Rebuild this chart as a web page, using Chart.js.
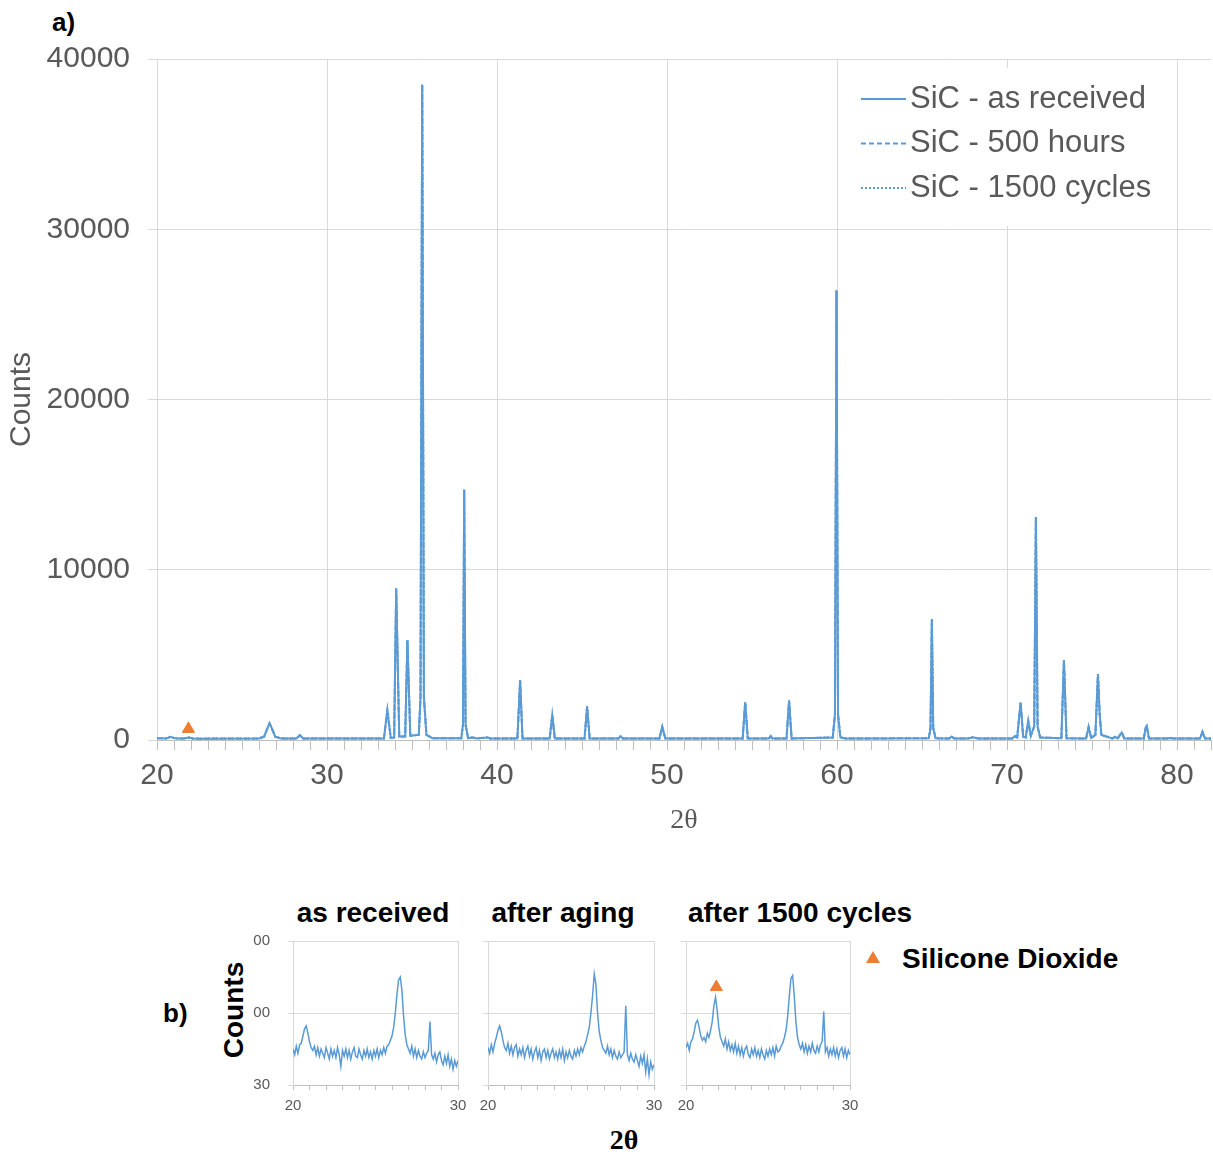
<!DOCTYPE html>
<html>
<head>
<meta charset="utf-8">
<script src="https://cdn.jsdelivr.net/npm/chart.js@4.4.0/dist/chart.umd.min.js"></script>
<style>
body { margin: 0; background: #fff; width: 1213px; height: 1156px; position: relative; overflow: hidden; font-family: 'Liberation Sans', Arial, sans-serif; }
canvas { position: absolute; }
.lbl { position: absolute; font-weight: bold; color: #000; white-space: nowrap; }
.ctr { transform: translateX(-50%); }
</style>
</head>
<body>
<div class="lbl" style="left:52px;top:7px;font-size:26px;line-height:30px">a)</div>
<canvas id="mainChart" width="1213" height="850" style="left:0;top:0"></canvas>

<div class="lbl ctr" style="left:373px;top:897px;font-size:28px;line-height:32px">as received</div>
<div class="lbl ctr" style="left:563px;top:897px;font-size:28px;line-height:32px">after aging</div>
<div class="lbl ctr" style="left:800px;top:897px;font-size:28px;line-height:32px">after 1500 cycles</div>
<div style="position:absolute;left:866px;top:951px;width:0;height:0;border-left:7px solid transparent;border-right:7px solid transparent;border-bottom:12px solid #ED7D31"></div>
<div class="lbl" style="left:902px;top:943px;font-size:28px;line-height:32px">Silicone Dioxide</div>
<div class="lbl" style="left:163px;top:998px;font-size:26px;line-height:30px">b)</div>
<div class="lbl" style="left:234px;top:1010px;font-size:28px;line-height:32px;transform:translate(-50%,-50%) rotate(-90deg)">Counts</div>
<div class="lbl ctr" style="left:624px;top:1124px;font-size:28px;line-height:32px;font-family:'Liberation Serif',serif">2θ</div>

<canvas id="small1" width="225" height="190" style="left:250px;top:930px"></canvas>
<canvas id="small2" width="226" height="190" style="left:445px;top:930px"></canvas>
<canvas id="small3" width="224" height="190" style="left:643px;top:930px"></canvas>

<script>
// main pattern (a)
var mainX = [20.0, 20.5, 20.6, 20.8, 21.0, 21.3, 21.6, 21.85, 22.1, 22.6,
    26.0, 26.3, 26.5, 26.62, 26.75, 26.95, 27.3,
    28.2, 28.4, 28.6,
    33.35, 33.55, 33.75, 33.95, 34.07, 34.25, 34.6, 34.73, 34.9, 35.4, 35.5, 35.6, 35.7, 35.85, 36.2,
    37.9, 38.0, 38.07, 38.15, 38.3, 38.6, 38.8, 39.45, 39.6,
    41.2, 41.36, 41.5, 43.1, 43.25, 43.4, 45.15, 45.3, 45.45, 47.15, 47.27, 47.4,
    49.55, 49.72, 49.9, 50.1, 54.45, 54.6, 54.75, 56.0, 56.1, 56.2, 57.03, 57.18, 57.33,
    59.75, 59.88, 59.97, 60.06, 60.2, 60.5,
    65.4, 65.5, 65.58, 65.66, 65.8, 66.6, 66.75, 66.9, 67.7, 68.0, 68.3,
    70.3, 70.45, 70.6, 70.8, 70.95, 71.1, 71.25, 71.4, 71.6, 71.7, 71.8, 71.95,
    73.2, 73.35, 73.5, 74.65, 74.8, 74.95, 75.2, 75.35, 75.45, 75.55,
    76.2, 76.35, 76.5, 76.75, 76.9, 78.05, 78.15, 78.22, 78.35, 79.4, 79.6, 79.8, 81.35, 81.5, 81.65, 82.0];
var mainY = [110, 90, 110, 190, 110, 85, 95, 150, 95, 80,
    90, 200, 700, 980, 700, 200, 90,
    85, 280, 85,
    85, 1750, 120, 150, 8900, 200, 200, 5850, 250, 300, 2500, 38500, 2500, 300, 110,
    110, 900, 14700, 900, 110, 150, 90, 150, 85,
    85, 3500, 90, 85, 1480, 85, 85, 1980, 85, 85, 220, 85,
    85, 760, 100, 90, 85, 2220, 85, 85, 230, 85, 85, 2320, 90,
    150, 1500, 26400, 1500, 150, 90,
    100, 700, 7100, 700, 100, 85, 200, 85, 90, 160, 90,
    90, 220, 150, 2200, 200, 150, 1120, 250, 800, 13100, 800, 150,
    100, 4680, 100, 90, 770, 120, 300, 3880, 1530, 300,
    90, 180, 90, 440, 90, 90, 700, 820, 90, 85, 120, 85, 85, 480, 85, 90];
var seriesNames = ['SiC - as received', 'SiC - 500 hours', 'SiC - 1500 cycles'];
var mainYTickLabels = ['0', '10000', '20000', '30000', '40000'];
var oxideMarkX = [21.85];
var oxideMarkY = [650];

// zoomed patterns (b), 20-30 degrees
var smallX = [20.0, 20.1, 20.2, 20.3, 20.4, 20.5, 20.6, 20.7, 20.8, 20.9, 21.0, 21.1, 21.2, 21.3, 21.4, 21.5, 21.6, 21.7, 21.8, 21.9, 22.0,
    22.1, 22.2, 22.3, 22.4, 22.5, 22.6, 22.7, 22.8, 22.9, 23.0,
    23.1, 23.2, 23.3, 23.4, 23.5, 23.6, 23.7, 23.8, 23.9, 24.0,
    24.1, 24.2, 24.3, 24.4, 24.5, 24.6, 24.7, 24.8, 24.9, 25.0,
    25.1, 25.2, 25.3, 25.4, 25.5, 25.6, 25.7, 25.8, 25.9, 26.0,
    26.1, 26.2, 26.3, 26.4, 26.5, 26.6, 26.7, 26.8, 26.9, 27.0,
    27.1, 27.2, 27.3, 27.4, 27.5, 27.6, 27.7, 27.8, 27.9, 28.0,
    28.1, 28.2, 28.3, 28.4, 28.5, 28.6, 28.7, 28.8, 28.9, 29.0,
    29.1, 29.2, 29.3, 29.4, 29.5, 29.6, 29.7, 29.8, 29.9, 30.0];
var asReceived = [25, 21, 27, 22, 28, 29, 34, 39, 41, 36, 30, 26, 24, 27, 21, 26, 20, 25, 22, 19, 26,
    22, 18, 25, 20, 24, 19, 26, 21, 13, 24,
    20, 25, 19, 24, 18, 23, 26, 20, 19, 25,
    21, 18, 24, 20, 25, 19, 23, 18, 24, 20,
    25, 19, 24, 21, 26, 22, 27, 28, 31, 34,
    40, 50, 63, 73, 75, 66, 48, 35, 28, 25,
    22, 27, 20, 25, 19, 24, 20, 18, 23, 19,
    22, 24, 44, 21, 18, 22, 16, 21, 23, 17,
    14, 20, 15, 21, 13, 18, 11, 17, 13, 17];
var afterAging = [26, 22, 28, 23, 29, 33, 38, 41, 37, 31, 26, 24, 29, 22, 27, 21, 26, 28, 20, 25, 21,
    26, 19, 24, 27, 20, 25, 18, 23, 26, 19,
    24, 17, 23, 25, 19, 24, 18, 22, 25, 19,
    23, 18, 24, 19, 25, 17, 23, 19, 24, 20,
    18, 24, 20, 25, 21, 26, 23, 27, 30, 35,
    40, 50, 62, 77, 70, 50, 37, 31, 26, 24,
    22, 27, 21, 25, 19, 24, 20, 18, 23, 19,
    21, 23, 55, 21, 17, 22, 18, 16, 21, 17,
    13, 20, 15, 21, 9, 18, 7, 16, 11, 14];
var afterCycles = [26, 29, 24, 30, 32, 37, 43, 45, 40, 34, 31, 33, 30, 36, 33, 38, 44, 55, 61, 52, 40,
    33, 30, 27, 32, 25, 30, 24, 28, 23, 29,
    22, 27, 21, 26, 20, 25, 27, 21, 19, 25,
    21, 26, 20, 24, 19, 25, 21, 18, 24, 20,
    25, 21, 26, 20, 27, 23, 24, 27, 29, 33,
    38, 48, 62, 74, 76, 62, 44, 33, 28, 25,
    29, 23, 28, 22, 27, 23, 29, 24, 22, 27,
    23, 28, 30, 51, 23, 26, 20, 25, 21, 26,
    20, 25, 19, 24, 26, 20, 25, 19, 24, 21];
var smallYTickLabels = ['30', '00', '00'];
var cyclesMarkX = [21.85];
var cyclesMarkY = [68];

var blue = '#5B9BD5';
var orange = '#ED7D31';
var fontFamily = "'Liberation Sans', Arial, sans-serif";

var mainPoints = mainX.map(function(x, i) { return {x: x, y: mainY[i]}; });

function noPad(s) {
    s.paddingLeft = 0;
    s.paddingRight = 0;
    s.paddingTop = 0;
    s.paddingBottom = 0;
}

var boxLegend = {
    id: 'boxLegend',
    afterDatasetsDraw: function(chart) {
        var ctx = chart.ctx;
        ctx.save();
        ctx.fillStyle = '#fff';
        ctx.fillRect(845, 68, 325, 158);
        ctx.font = '31px ' + fontFamily;
        ctx.textBaseline = 'middle';
        for (var i = 0; i < 3; i++) {
            var ds = chart.data.datasets[i];
            var y = 99 + i * 44.5;
            ctx.strokeStyle = ds.borderColor;
            ctx.lineWidth = 2;
            ctx.setLineDash(ds.borderDash || []);
            ctx.beginPath();
            ctx.moveTo(861, y);
            ctx.lineTo(906, y);
            ctx.stroke();
            ctx.setLineDash([]);
            ctx.fillStyle = '#595959';
            ctx.fillText(ds.label, 910, y);
        }
        ctx.restore();
    }
};

var mainConfig = {
    type: 'line',
    data: {
        datasets: [{
            label: seriesNames[0],
            data: mainPoints,
            borderColor: blue,
            borderWidth: 2,
            pointRadius: 0
        }, {
            label: seriesNames[1],
            data: mainPoints,
            borderColor: blue,
            borderWidth: 2,
            borderDash: [5, 3],
            pointRadius: 0
        }, {
            label: seriesNames[2],
            data: mainPoints,
            borderColor: blue,
            borderWidth: 2,
            borderDash: [2, 2],
            pointRadius: 0
        }, {
            label: 'SiO2',
            data: oxideMarkX.map(function(x, i) { return {x: x, y: oxideMarkY[i]}; }),
            showLine: false,
            pointStyle: 'triangle',
            pointRadius: 7,
            backgroundColor: orange,
            borderColor: orange
        }]
    },
    options: {
        responsive: false,
        animation: false,
        layout: { autoPadding: false, padding: { top: 59, right: 2, left: 0, bottom: 0 } },
        plugins: { legend: { display: false }, tooltip: { enabled: false } },
        scales: {
            x: {
                type: 'linear',
                min: 20,
                max: 82,
                afterFit: function(s) { s.height = 110; noPad(s); },
                ticks: {
                    stepSize: 1,
                    autoSkip: false,
                    maxRotation: 0,
                    padding: 8,
                    color: '#595959',
                    font: { size: 30, family: fontFamily },
                    callback: function(v) { return v % 10 === 0 ? String(v) : ''; }
                },
                grid: {
                    color: function(c) {
                        return (c.tick && c.tick.value % 10 === 0 && c.tick.value !== 20) ? '#d9d9d9' : 'rgba(0,0,0,0)';
                    },
                    tickColor: '#bfbfbf',
                    tickLength: 10
                },
                border: { color: '#bfbfbf' },
                title: {
                    display: true,
                    text: '2θ',
                    color: '#595959',
                    font: { size: 28, family: "'Liberation Serif', serif" },
                    padding: { top: 0, bottom: 13 }
                }
            },
            y: {
                min: 0,
                max: 40000,
                afterFit: function(s) { s.width = 157; noPad(s); },
                ticks: {
                    stepSize: 10000,
                    padding: 18,
                    color: '#595959',
                    font: { size: 30, family: fontFamily },
                    callback: function(v, i) { return mainYTickLabels[i]; }
                },
                grid: { color: '#d9d9d9', tickColor: '#d9d9d9', tickLength: 9 },
                border: { color: '#d9d9d9' },
                title: {
                    display: true,
                    text: 'Counts',
                    color: '#595959',
                    font: { size: 30, family: fontFamily },
                    padding: { top: 4, bottom: 0 }
                }
            }
        }
    },
    plugins: [boxLegend]
};

function smallConfig(values, showYLabels, markX, markY) {
    var datasets = [{
        data: values,
        borderColor: blue,
        borderWidth: 1.5,
        pointRadius: 0
    }];
    if (markX) {
        datasets.push({
            data: markX.map(function(x, i) { return {x: x, y: markY[i]}; }),
            showLine: false,
            pointStyle: 'triangle',
            pointRadius: 7,
            backgroundColor: orange,
            borderColor: orange
        });
    }
    return {
        type: 'line',
        data: { labels: smallX, datasets: datasets },
        options: {
            responsive: false,
            animation: false,
            layout: { autoPadding: false, padding: { top: 11, right: 17, left: 0, bottom: 0 } },
            plugins: { legend: { display: false }, tooltip: { enabled: false } },
            scales: {
                x: {
                    type: 'linear',
                    min: 20,
                    max: 30,
                    afterFit: function(s) { s.height = 35; noPad(s); },
                    ticks: {
                        stepSize: 1,
                        autoSkip: false,
                        maxRotation: 0,
                        padding: 7,
                        color: '#595959',
                        font: { size: 15, family: fontFamily },
                        callback: function(v) { return v % 10 === 0 ? String(v) : ''; }
                    },
                    grid: {
                        color: function(c) { return (c.tick && c.tick.value === 30) ? '#d9d9d9' : 'rgba(0,0,0,0)'; },
                        tickColor: '#bfbfbf',
                        tickLength: 5
                    },
                    border: { color: '#bfbfbf' }
                },
                y: {
                    min: 0,
                    max: 100,
                    afterFit: function(s) { s.width = 43; noPad(s); },
                    ticks: {
                        display: showYLabels,
                        stepSize: 50,
                        padding: 18,
                        color: '#595959',
                        font: { size: 15, family: fontFamily },
                        callback: function(v, i) { return smallYTickLabels[i]; }
                    },
                    grid: { color: '#d9d9d9', tickColor: '#d9d9d9', tickLength: 5 },
                    border: { color: '#d9d9d9' }
                }
            }
        }
    };
}

window.onload = function() {
    new Chart(document.getElementById('mainChart').getContext('2d'), mainConfig);
    new Chart(document.getElementById('small1').getContext('2d'), smallConfig(asReceived, true));
    new Chart(document.getElementById('small2').getContext('2d'), smallConfig(afterAging, false));
    new Chart(document.getElementById('small3').getContext('2d'), smallConfig(afterCycles, false, cyclesMarkX, cyclesMarkY));
};
</script>
</body>
</html>
